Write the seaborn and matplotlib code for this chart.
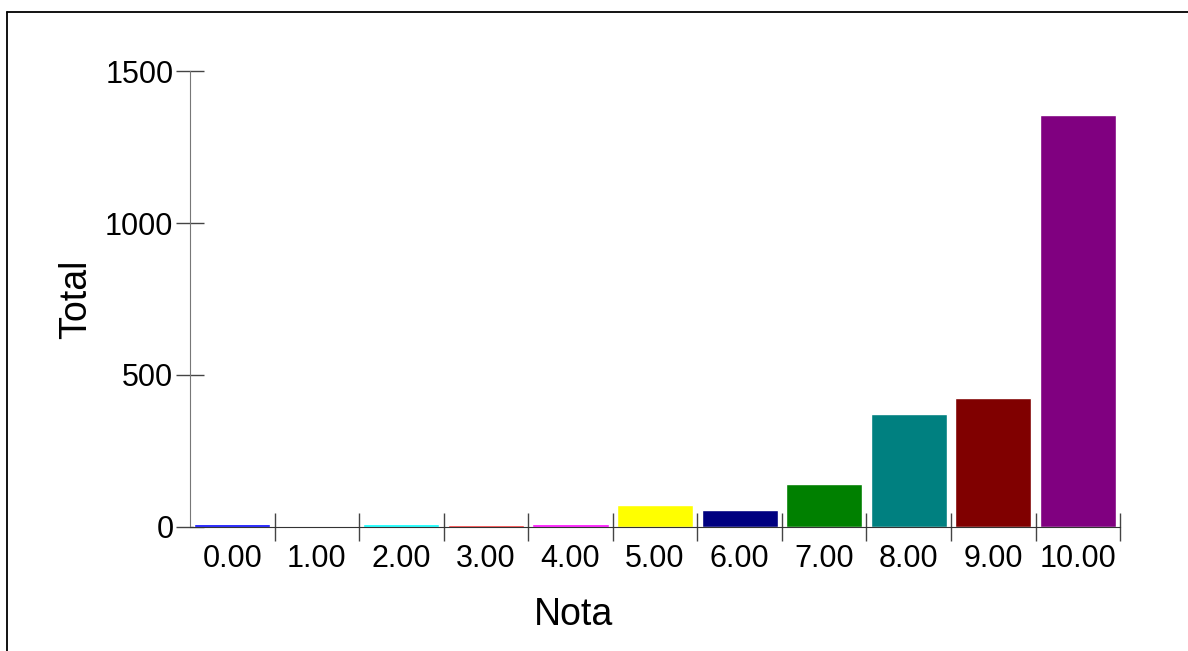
"""
Distribution of grades (Nota) by total count
"""

import pandas as pd
import matplotlib.pyplot as plt
from matplotlib.lines import Line2D
import seaborn as sns

# Data
notas = ['0.00', '1.00', '2.00', '3.00', '4.00', '5.00',
         '6.00', '7.00', '8.00', '9.00', '10.00']
totais = [9, 3, 10, 8, 11, 72, 56, 141, 372, 424, 1355]
cores = ['#0000ff', '#008000', '#00ffff', '#ff0000', '#ff00ff', '#ffff00',
         '#000080', '#008000', '#008080', '#800000', '#800080']
y_ticks = [0, 500, 1000, 1500]

sns.set_style("white")
plt.rcParams['font.family'] = ['Liberation Sans', 'DejaVu Sans']
plt.rcParams['text.color'] = 'black'
plt.rcParams['axes.labelcolor'] = 'black'

df = pd.DataFrame({'Nota': notas, 'Total': totais})

fig = plt.figure(figsize=(11.88, 6.51), dpi=100)
ax = fig.add_axes([0.16, 0.1905, 0.7828, 0.7004])

sns.barplot(data=df, x='Nota', y='Total', hue='Nota', palette=cores,
            order=notas, hue_order=notas, width=0.9, legend=False,
            saturation=1, ax=ax)

ax.set_xlim(-0.5, len(notas) - 0.5)
ax.set_ylim(0, 1500)
ax.set_yticks(y_ticks)

# labels centred on bars, tick marks on category boundaries
ax.set_xticks(range(len(notas)))
ax.set_xticklabels(notas)
ax.set_xticks([i + 0.5 for i in range(len(notas))], minor=True)
ax.tick_params(axis='x', which='major', bottom=True, length=0,
               labelsize=22, labelcolor='black', pad=12)
ax.tick_params(axis='x', which='minor', bottom=True, direction='inout',
               length=20, width=1, color='#444444')
ax.tick_params(axis='y', left=True, direction='inout', length=20, width=1,
               color='#444444', labelsize=22, labelcolor='black', pad=2)

for side in ['top', 'right']:
    ax.spines[side].set_visible(False)
ax.spines['left'].set_color('#777777')
ax.spines['bottom'].set_color('#333333')

ax.set_xlabel('Nota', fontsize=27, labelpad=17, x=0.412)
ax.set_ylabel('Total', fontsize=27, labelpad=8)

# outer frame (top and left edges visible)
fig.add_artist(Line2D([0.0059, 1.0], [0.9816, 0.9816], color='black', lw=1.3))
fig.add_artist(Line2D([0.0059, 0.0059], [0.0, 0.9816], color='black', lw=1.3))

plt.savefig('out.png', dpi=100)
plt.close()
